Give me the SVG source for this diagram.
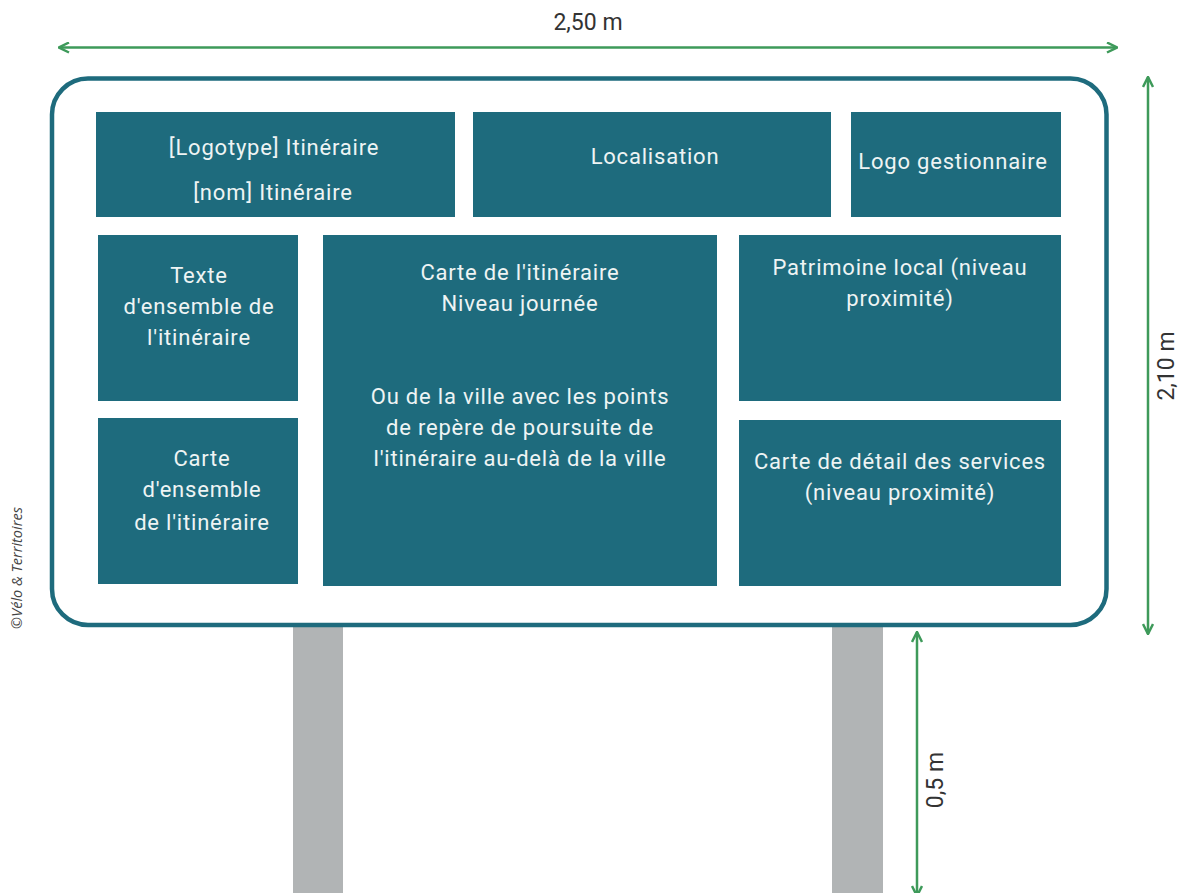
<svg xmlns="http://www.w3.org/2000/svg" width="1178" height="893" viewBox="0 0 1178 893">
<defs>
<style>
.box{fill:#1e6b7d}
.bt{font-family:Roboto,"Liberation Sans",sans-serif;font-size:22px;letter-spacing:0.8px;fill:#eef4f4;text-anchor:middle}
.dim{stroke:#3e9a5a;stroke-width:2.5;fill:none}
.dt{font-family:Roboto,"Liberation Sans",sans-serif;font-size:23px;fill:#333;text-anchor:middle}
.post{fill:#b1b4b5}
</style>
<marker id="ah" viewBox="0 0 12 12" refX="11" refY="6" markerWidth="12" markerHeight="12" markerUnits="userSpaceOnUse" orient="auto-start-reverse">
<path d="M1,1 L11,6 L1,11" fill="none" stroke="#3e9a5a" stroke-width="2.5"/>
</marker>
</defs>
<rect width="1178" height="893" fill="#fff"/>
<g id="posts">
<rect class="post" x="293" y="626" width="50" height="267"/>
<rect class="post" x="832" y="626" width="51" height="267"/>
</g>
<g id="sign">
<rect x="52" y="78.5" width="1054.5" height="546.5" rx="36" fill="#fff" stroke="#1e6b7d" stroke-width="4.5"/>
</g>
<g id="n-logotype">
<rect class="box" x="96" y="112" width="359" height="105"/>
<text class="bt" x="274" y="155">[Logotype] Itinéraire</text>
<text class="bt" x="273" y="200">[nom] Itinéraire</text>
</g>
<g id="n-localisation">
<rect class="box" x="473" y="112" width="358" height="105"/>
<text class="bt" x="655" y="164">Localisation</text>
</g>
<g id="n-logo-gest">
<rect class="box" x="851" y="112" width="210" height="105"/>
<text class="bt" x="953" y="169">Logo gestionnaire</text>
</g>
<g id="n-texte">
<rect class="box" x="98" y="235" width="200" height="166"/>
<text class="bt" x="199" y="283">Texte</text>
<text class="bt" x="199" y="314">d'ensemble de</text>
<text class="bt" x="199" y="345">l'itinéraire</text>
</g>
<g id="n-carte-ens">
<rect class="box" x="98" y="418" width="200" height="166"/>
<text class="bt" x="202" y="466">Carte</text>
<text class="bt" x="202" y="497">d'ensemble</text>
<text class="bt" x="202" y="530">de l'itinéraire</text>
</g>
<g id="n-carte-itin">
<rect class="box" x="323" y="235" width="394" height="351"/>
<text class="bt" x="520" y="280">Carte de l'itinéraire</text>
<text class="bt" x="520" y="311">Niveau journée</text>
<text class="bt" x="520" y="404">Ou de la ville avec les points</text>
<text class="bt" x="520" y="435">de repère de poursuite de</text>
<text class="bt" x="520" y="466">l'itinéraire au-delà de la ville</text>
</g>
<g id="n-patrimoine">
<rect class="box" x="739" y="235" width="322" height="166"/>
<text class="bt" x="900" y="275">Patrimoine local (niveau</text>
<text class="bt" x="900" y="306">proximité)</text>
</g>
<g id="n-carte-detail">
<rect class="box" x="739" y="420" width="322" height="166"/>
<text class="bt" x="900" y="469">Carte de détail des services</text>
<text class="bt" x="900" y="500">(niveau proximité)</text>
</g>
<g id="connectors">
<line class="dim" x1="59" y1="47.5" x2="1117" y2="47.5" marker-start="url(#ah)" marker-end="url(#ah)"/>
<line class="dim" x1="1148" y1="77" x2="1148" y2="634" marker-start="url(#ah)" marker-end="url(#ah)"/>
<line class="dim" x1="917" y1="632" x2="917" y2="896" marker-start="url(#ah)" marker-end="url(#ah)"/>
</g>
<g id="labels">
<text class="dt" x="588" y="30">2,50 m</text>
<text class="dt" transform="translate(1174,366) rotate(-90)">2,10 m</text>
<text class="dt" transform="translate(943,780) rotate(-90)">0,5 m</text>
<text transform="translate(22,568) rotate(-90)" font-family="'Open Sans','Liberation Sans',sans-serif" font-style="italic" font-size="14.5" fill="#444" text-anchor="middle">©Vélo &amp; Territoires</text>
</g>
</svg>
